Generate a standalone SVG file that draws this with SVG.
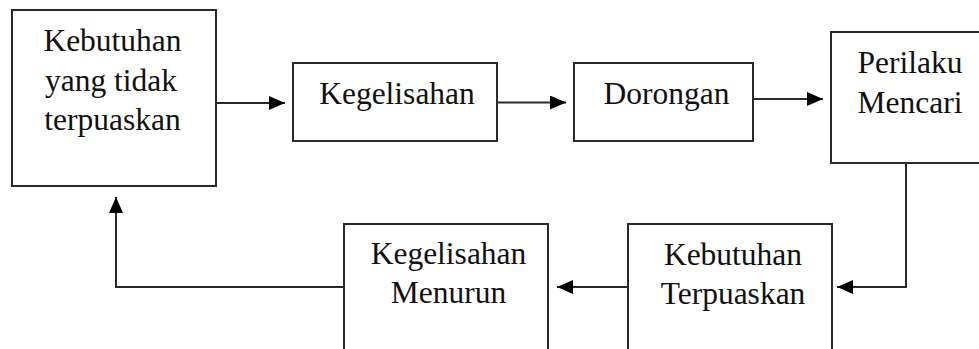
<svg xmlns="http://www.w3.org/2000/svg" width="979" height="349" viewBox="0 0 979 349">
  <style>
    .box { fill: #ffffff; stroke: #2a2a2a; stroke-width: 2; }
    .lbl { font-family: "Liberation Serif", "Times New Roman", serif; font-size: 31.5px; fill: #111111; text-anchor: middle; }
    .conn { fill: none; stroke: #2a2a2a; stroke-width: 2; }
  </style>
  <defs>
    <marker id="arrow" markerUnits="userSpaceOnUse" markerWidth="17" markerHeight="15" refX="16" refY="7" orient="auto">
      <path d="M0,0 L16,7 L0,14 z" fill="#000000"/>
    </marker>
  </defs>
  <rect width="979" height="349" fill="#ffffff"/>

  <g id="connectors">
    <path class="conn" d="M216,103 H285" marker-end="url(#arrow)"/>
    <path class="conn" d="M497,102.5 H566" marker-end="url(#arrow)"/>
    <path class="conn" d="M753,99 H823" marker-end="url(#arrow)"/>
    <path class="conn" d="M906,163 V287 H837" marker-end="url(#arrow)"/>
    <path class="conn" d="M628,287 H557" marker-end="url(#arrow)"/>
    <path class="conn" d="M344,287 H116 V197" marker-end="url(#arrow)"/>
  </g>

  <g id="kebutuhan-tidak-terpuaskan">
    <rect class="box" x="12" y="10" width="204" height="176"/>
    <text class="lbl" x="112.5" y="51">Kebutuhan</text>
    <text class="lbl" x="111" y="90.5">yang tidak</text>
    <text class="lbl" x="112.5" y="130">terpuaskan</text>
  </g>

  <g id="kegelisahan">
    <rect class="box" x="293" y="63" width="204" height="78"/>
    <text class="lbl" x="397" y="103.5">Kegelisahan</text>
  </g>

  <g id="dorongan">
    <rect class="box" x="574" y="63" width="179" height="78"/>
    <text class="lbl" x="666.5" y="104">Dorongan</text>
  </g>

  <g id="perilaku-mencari">
    <rect class="box" x="831" y="32" width="160" height="131"/>
    <text class="lbl" x="910" y="73">Perilaku</text>
    <text class="lbl" x="910" y="113">Mencari</text>
  </g>

  <g id="kebutuhan-terpuaskan">
    <rect class="box" x="628" y="224" width="204" height="140"/>
    <text class="lbl" x="733" y="265">Kebutuhan</text>
    <text class="lbl" x="733" y="304">Terpuaskan</text>
  </g>

  <g id="kegelisahan-menurun">
    <rect class="box" x="344" y="224" width="204" height="140"/>
    <text class="lbl" x="448.5" y="264">Kegelisahan</text>
    <text class="lbl" x="448.5" y="303">Menurun</text>
  </g>
</svg>
